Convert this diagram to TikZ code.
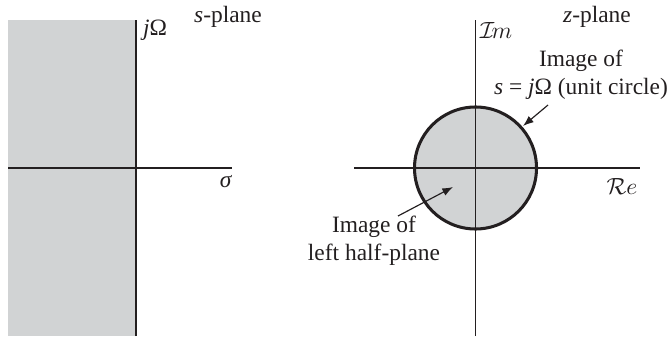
\documentclass[tikz,border=0pt]{standalone}
\usepackage{fontspec}
\setmainfont{Liberation Serif}
\usetikzlibrary{arrows.meta,positioning}
\definecolor{paneGray}{HTML}{D1D3D4}
\definecolor{ink}{HTML}{231F20}

\begin{document}
\begin{tikzpicture}[
    x=0.015cm, y=0.015cm,
    font=\normalsize,
    axis/.style={draw=ink, line width=0.65pt},
    rim/.style={draw=ink, line width=1.3pt},
    label/.style={text=ink, inner sep=1pt},
    pointer/.style={-{Latex[length=1.6mm, width=1.2mm]}, draw=ink, line width=0.5pt}
]
\useasboundingbox (0,0) rectangle (667,336);

% s-plane: shaded left half-plane and axes.
\fill[paneGray] (8,0) rectangle (136,316);
\draw[axis] (136,0) -- (136,316);
\draw[axis] (8,168) -- (232,168);
\node[label] (jw) at (155,306) {\textit{j}Ω};
\node[label] (sig) at (226,154) {\textit{σ}};
\node[label] (splane) at (228,319) {\textit{s}-plane};

% z-plane: unit disc and axes.
\coordinate (zo) at (475.5,168);
\fill[paneGray] (zo) circle[radius=61];
\draw[axis] (475.5,0) -- (475.5,316);
\draw[axis] (354,168) -- (640,168);
\draw[rim] (zo) circle[radius=61];
\node[label] (im) at (496,306) {$\mathcal{I}\mkern-2mu m$};
\node[label] (re) at (622,150) {$\mathcal{R}e$};
\node[label] (zplane) at (597,319) {\textit{z}-plane};

% Annotations.
\node[label, align=center] (unitlab) at (581,261)
    {Image of\\\textit{s} = \textit{j}Ω (unit circle)};
\node[label, align=center] (halflab) at (374,95)
    {Image of\\left half-plane};
\coordinate (rimpt) at (523,210);
\coordinate (inpt) at (453,149);
\coordinate (unittail) at (548,231);
\coordinate (halftail) at (398,120);
\draw[pointer] (unittail) -- (rimpt);
\draw[pointer] (halftail) -- (inpt);

\end{tikzpicture}
\end{document}
